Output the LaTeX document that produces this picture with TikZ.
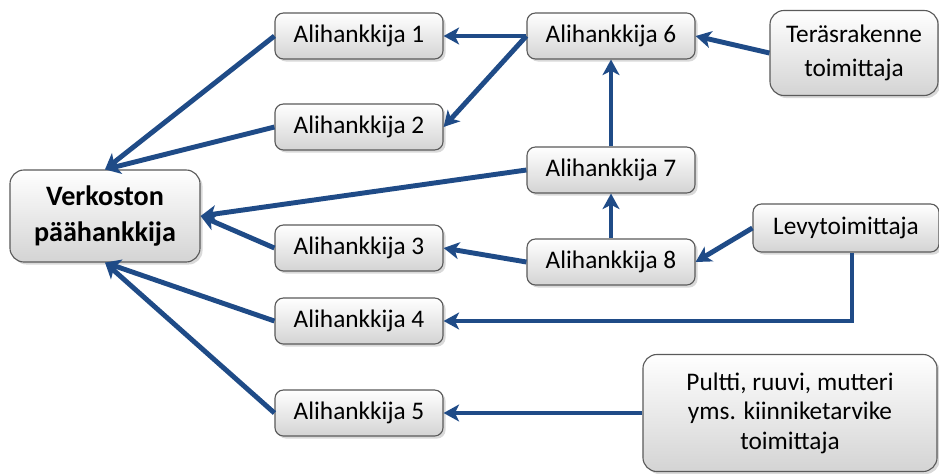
\documentclass[tikz,border=0pt]{standalone}
\usepackage{fontspec}
\setmainfont{Carlito}
\usepackage{xcolor}
\usepackage{tikz}
\usetikzlibrary{arrows.meta, positioning, calc, shadows}
\definecolor{link}{HTML}{1F4B87}
\definecolor{rim} {HTML}{5A5A5A}

\begin{document}
\begin{tikzpicture}[x=0.025cm, y=-0.025cm,
  % one unit is one pixel of the 939 x 473 layout; y runs down the page
  box/.style={
    draw=rim, rounded corners=6pt, line width=0.8pt,
    top color=white, bottom color=black!17,
    drop shadow={shadow xshift=1.8pt, shadow yshift=-1.8pt, opacity=0.3},
    minimum width=4.2cm, minimum height=1.15cm, align=center, inner sep=2pt,
    font=\fontsize{18}{21}\selectfont
  },
  bigbox/.style={box, rounded corners=10pt},
  flow/.style={-{Stealth[length=11pt,width=12pt,inset=3pt]}, line width=3.5pt,
               color=link}
]

\useasboundingbox (0,0) rectangle (939,473);

\def\C{359}   % first column of subcontractors
\def\D{611}   % second column

% --- main contractor -----------------------------------------------------------
\node[bigbox, minimum width=4.75cm, minimum height=2.3cm,
      font=\fontsize{20}{25}\selectfont\bfseries] (main) at (105,216)
  {Verkoston\\päähankkija};

% --- subcontractors ------------------------------------------------------------
\node[box] (sub1) at (\C, 36)  {Alihankkija 1};
\node[box] (sub2) at (\C,127)  {Alihankkija 2};
\node[box] (sub3) at (\C,248)  {Alihankkija 3};
\node[box] (sub4) at (\C,321)  {Alihankkija 4};
\node[box] (sub5) at (\C,413)  {Alihankkija 5};
\node[box] (sub6) at (\D, 36)  {Alihankkija 6};
\node[box] (sub7) at (\D,170)  {Alihankkija 7};
\node[box] (sub8) at (\D,262)  {Alihankkija 8};

% --- suppliers -----------------------------------------------------------------
\node[bigbox, minimum height=2.125cm, font=\fontsize{18}{24}\selectfont]
  (steel) at (854,53) {Teräsrakenne\\toimittaja};
\node[box, minimum width=4.65cm, minimum height=1.2cm] (plate) at (846,228)
  {Levytoimittaja};
\node[bigbox, minimum width=7.35cm, minimum height=2.925cm] (bolt) at (790,413)
  {Pultti, ruuvi, mutteri\\yms. kiinniketarvike\\toimittaja};

% --- deliveries towards the main contractor ----------------------------------
\draw[flow] (sub1.west) -- (main.north);
\draw[flow] (sub2.west) -- (main.north);
\draw[flow] (sub7.west) -- (main.east);
\draw[flow] (sub3.west) -- (main.east);
\draw[flow] (sub4.west) -- (main.south);
\draw[flow] (sub5.west) -- (main.south);

\draw[flow] (sub6.west) -- (sub1.east);
\draw[flow] (sub6.west) -- (sub2.east);
\draw[flow] (sub7) -- (sub6);
\draw[flow] (sub8) -- (sub7);
\draw[flow] (sub8.west) -- (sub3.east);

\draw[flow] (steel.west) -- (sub6.east);
\draw[flow] (plate.west) -- (sub8.east);
\draw[flow] ([xshift=0.15cm]plate.south) |- (sub4.east);
\draw[flow] (bolt.west) -- (sub5.east);

\end{tikzpicture}
\end{document}
